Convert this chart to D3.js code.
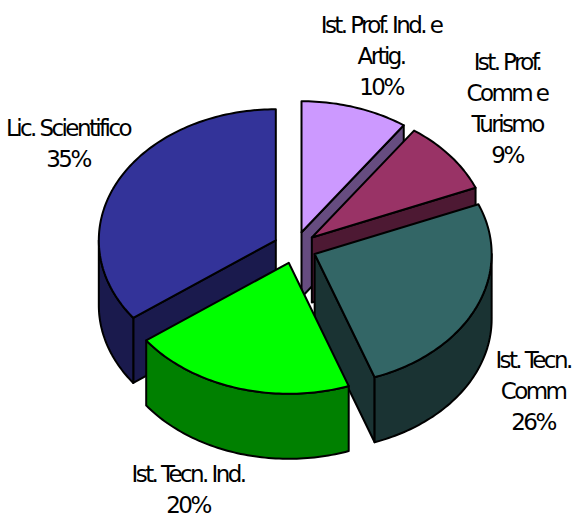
<!DOCTYPE html>
<html>
<head>
<meta charset="utf-8">
<script src="https://cdn.jsdelivr.net/npm/d3@7"></script>
<style>
  html, body { margin: 0; padding: 0; background: #fff; }
</style>
</head>
<body>
<div id="chart"></div>
<script>
// clockwise from 12 o'clock
const categories = [
  ["Ist. Prof. Ind. e", "Artig."],
  ["Ist. Prof.", "Comm e", "Turismo"],
  ["Ist. Tecn.", "Comm"],
  ["Ist. Tecn. Ind."],
  ["Lic. Scientifico"]
];
const values = [9.8, 9.0, 25.7, 20.4, 35.1];
const topColors = ["#cc99ff", "#993366", "#336666", "#00ff00", "#333399"];
const sideColors = ["#664c80", "#4d1933", "#1a3333", "#008000", "#1a1a4d"];

const width = 574, height = 518;
const cx = 295, cy = 247.5;       // pie centre before exploding
const rx = 177, ry = 131;         // ellipse of the tilted disc
const depth = 65;
const explodeX = 21.5, explodeY = 16;

// centre of the first line of each label
const labelX = [381, 507, 533, 188, 68];
const labelY = [25, 62, 360, 474, 128];
const lineHeight = 31;

const svg = d3.select("#chart")
  .append("svg")
  .attr("width", width)
  .attr("height", height)
  .style("display", "block");

const pie = d3.pie().sort(null).startAngle(0).endAngle(2 * Math.PI);
const arcs = pie(values);

const line = d3.line();

// point on the rim, 0 is up and angles go clockwise
function rim(a, drop) {
  return [rx * Math.sin(a), -ry * Math.cos(a) + drop];
}

// back to front, same order the original overlaps
const drawOrder = [4, 0, 1, 2, 3];

drawOrder.forEach(i => {
  const d = arcs[i];
  const mid = (d.startAngle + d.endAngle) / 2;
  const g = svg.append("g")
    .attr("transform", "translate(" + (cx + explodeX * Math.sin(mid)) + "," + (cy - explodeY * Math.cos(mid)) + ")")
    .attr("stroke", "#000")
    .attr("stroke-width", 2)
    .attr("stroke-linejoin", "round");

  // cut face, only when it turns towards the viewer
  const cutAngle = d.endAngle < Math.PI ? d.endAngle : d.startAngle;
  const facesViewer = d.endAngle < Math.PI || d.startAngle > Math.PI;
  if (facesViewer) {
    g.append("path")
      .attr("fill", sideColors[i])
      .attr("d", line([[0, 0], rim(cutAngle, 0), rim(cutAngle, depth), [0, depth]]) + "Z");
  }

  // outer wall, front half of the rim only
  const a0 = Math.max(d.startAngle, Math.PI / 2);
  const a1 = Math.min(d.endAngle, 3 * Math.PI / 2);
  if (a1 > a0) {
    const angles = d3.range(a0, a1, 0.02).concat([a1]);
    const pts = angles.map(a => rim(a, 0))
      .concat(angles.slice().reverse().map(a => rim(a, depth)));
    g.append("path")
      .attr("fill", sideColors[i])
      .attr("d", line(pts) + "Z");
  }

  // top face
  const angles = d3.range(d.startAngle, d.endAngle, 0.02).concat([d.endAngle]);
  g.append("path")
    .attr("fill", topColors[i])
    .attr("d", line([[0, 0]].concat(angles.map(a => rim(a, 0)))) + "Z");
});

// labels
categories.forEach((lines, i) => {
  const text = svg.append("text")
    .attr("text-anchor", "middle")
    .attr("font-family", "'DejaVu Sans', sans-serif")
    .attr("font-size", 23)
    .attr("letter-spacing", -2.6)
    .attr("fill", "#000");
  lines.concat([Math.round(values[i]) + "%"]).forEach((s, j) => {
    text.append("tspan")
      .attr("x", labelX[i])
      .attr("y", labelY[i] + j * lineHeight + 8)
      .text(s);
  });
});
</script>
</body>
</html>
